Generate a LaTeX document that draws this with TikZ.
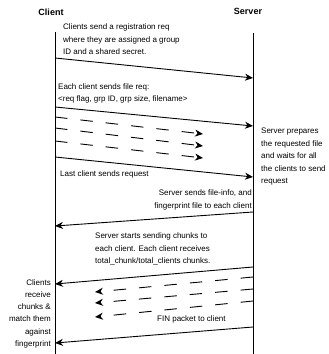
\documentclass[tikz,border=0pt]{standalone}
\usepackage{fontspec}
\setmainfont{Liberation Sans}
\usetikzlibrary{arrows.meta}
\begin{document}
\begin{tikzpicture}[x=1pt,y=-1pt,
  lifeline/.style={line width=1pt},
  msg/.style={line width=0.9pt,-{Stealth[length=8pt,width=7pt,inset=2.5pt]}},
  pending/.style={msg, dash pattern=on 12.5pt off 13pt},
  note/.style={inner sep=0pt, font=\fontsize{8}{12.5}\selectfont},
  title/.style={inner sep=0pt, font=\fontsize{9}{11}\selectfont\bfseries}]
\useasboundingbox (0,0) rectangle (329,354);

% participants
\node[title] (client) at (51,12) {Client};
\node[title] (server) at (248,11) {Server};

% lifelines
\coordinate (c0) at (55,32);  \coordinate (cE) at (55,354);
\coordinate (s0) at (253,33); \coordinate (sE) at (253,354);
\draw[lifeline] (c0) -- (cE);
\draw[lifeline] (s0) -- (sE);

% registration
\node[note, anchor=north west, align=left] (reg) at (63,23.7)
  {Clients send a registration req\\where they are assigned a group\\ID and a shared secret.};
\coordinate (m1a) at (55,58);  \coordinate (m1b) at (253,78);
\draw[msg] (m1a) -- (m1b);

% file requests
\node[note, anchor=north west, align=left] (freq) at (58,83.2)
  {Each client sends file req:\\<req flag, grp ID, grp size, filename>};
\coordinate (m2a) at (55,107); \coordinate (m2b) at (253,126);
\draw[msg] (m2a) -- (m2b);
\coordinate (d1a) at (55,117); \coordinate (d1b) at (203,134);
\coordinate (d2a) at (55,128); \coordinate (d2b) at (203,146);
\coordinate (d3a) at (55,141); \coordinate (d3b) at (203,158);
\draw[pending] (d1a) -- (d1b);
\draw[pending] (d2a) -- (d2b);
\draw[pending] (d3a) -- (d3b);
\node[note, anchor=north west] (last) at (60,170.2) {Last client sends request};
\coordinate (m3a) at (55,157); \coordinate (m3b) at (253,177);
\draw[msg] (m3a) -- (m3b);

\node[note, anchor=north west, align=left] (prep) at (261,128.2)
  {Server prepares\\the requested file\\and waits for all\\the clients to send\\request};

% file info
\node[note, anchor=north east, align=right] (info) at (252,189.7)
  {Server sends file-info, and\\fingerprint file to each client};
\coordinate (m4a) at (253,212); \coordinate (m4b) at (55,226);
\draw[msg] (m4a) -- (m4b);

% chunk transfer
\node[note, anchor=north west, align=left] (chunks) at (95,232.7)
  {Server starts sending chunks to\\each client. Each client receives\\total\_chunk/total\_clients chunks.};
\coordinate (m5a) at (253,267); \coordinate (m5b) at (55,284);
\draw[msg] (m5a) -- (m5b);
\coordinate (e1a) at (253,277); \coordinate (e1b) at (95,292);
\coordinate (e2a) at (253,289); \coordinate (e2b) at (95,303);
\coordinate (e3a) at (253,301); \coordinate (e3b) at (95,317);
\draw[pending] (e1a) -- (e1b);
\draw[pending] (e2a) -- (e2b);
\draw[pending] (e3a) -- (e3b);

% finish
\node[note, anchor=north west] (fin) at (157,315.7) {FIN packet to client};
\coordinate (m6a) at (253,327); \coordinate (m6b) at (55,343);
\draw[msg] (m6a) -- (m6b);

\node[note, anchor=north east, align=right, font=\fontsize{8}{12.2}\selectfont] (recv) at (51,279.2)
  {Clients\\receive\\chunks \&\\match them\\against\\fingerprint};
\end{tikzpicture}
\end{document}
